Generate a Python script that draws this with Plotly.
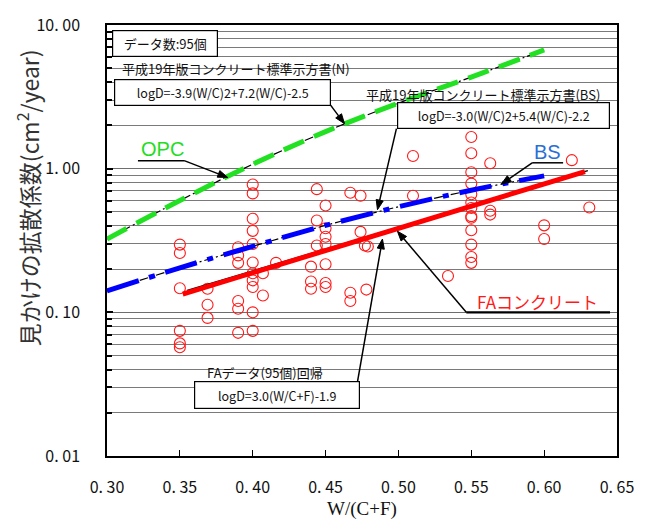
import math
import plotly.graph_objects as go

# ---------------- data ----------------
# FA concrete measurements: W/(C+F) and apparent diffusion coefficient (cm2/year)
fa_x = [0.35, 0.35, 0.35, 0.35, 0.35, 0.35,
        0.369, 0.369, 0.369,
        0.39, 0.39, 0.39, 0.39, 0.39, 0.39,
        0.40, 0.40, 0.40, 0.40, 0.40, 0.40, 0.40, 0.40, 0.40, 0.40, 0.40,
        0.407, 0.407,
        0.416,
        0.44, 0.44, 0.44,
        0.444, 0.444, 0.444,
        0.45, 0.45, 0.45, 0.45, 0.45, 0.45, 0.45,
        0.467, 0.467, 0.467,
        0.474, 0.474,
        0.477, 0.479,
        0.478,
        0.51, 0.51,
        0.534,
        0.55, 0.55, 0.55, 0.55, 0.55, 0.55, 0.55, 0.55, 0.55, 0.55, 0.55, 0.55, 0.55,
        0.563, 0.563, 0.563,
        0.60, 0.60,
        0.619,
        0.631]
fa_D = [0.296, 0.259, 0.147, 0.0743, 0.0608, 0.0572,
        0.146, 0.113, 0.0915,
        0.284, 0.249, 0.221, 0.120, 0.106, 0.072,
        0.775, 0.673, 0.448, 0.369, 0.299, 0.222, 0.187, 0.167, 0.150, 0.100, 0.0743,
        0.187, 0.131,
        0.221,
        0.208, 0.164, 0.146,
        0.72, 0.436, 0.292,
        0.554, 0.385, 0.336, 0.299, 0.216, 0.160, 0.150,
        0.679, 0.137, 0.120,
        0.648, 0.363,
        0.292, 0.287,
        0.144,
        0.648, 1.225,
        0.179,
        1.66, 1.28, 0.944, 0.787, 0.663, 0.581, 0.532, 0.467, 0.455, 0.373, 0.296, 0.243, 0.221,
        1.09, 0.510, 0.479,
        0.403, 0.324,
        1.146,
        0.537]

# JSCE 2007 curves as drawn (N = OPC, BS)
opc_x = [0.30, 0.35, 0.40, 0.45, 0.50, 0.55, 0.60]
opc_D = [0.324, 0.600, 1.074, 1.81, 2.86, 4.34, 6.71]
bs_x = [0.30, 0.35, 0.40, 0.45, 0.50, 0.55, 0.60]
bs_D = [0.141, 0.204, 0.288, 0.403, 0.543, 0.708, 0.891]

# FA regression line (red) and the thin black regression line
fa_reg_x = [0.352, 0.628]
fa_reg_D = [0.134, 0.955]
fa_blk_x = [0.355, 0.630]
fa_blk_D = [0.142, 0.970]

x_ticks = [0.30, 0.35, 0.40, 0.45, 0.50, 0.55, 0.60, 0.65]
x_ticktext = ["0. 30", "0. 35", "0. 40", "0. 45", "0. 50", "0. 55", "0. 60", "0. 65"]
y_major = [0.01, 0.1, 1, 10]
y_major_text = ["0. 01", "0. 10", "1. 00", "10. 00"]

# ---------------- figure ----------------
W, H = 646, 527
L, R, T, B = 107, 28, 16, 70
PW, PH = W - L - R, H - T - B


def px(x):
    return (x - L) / PW


def py(y):
    return (H - B - y) / PH


JP = "Noto Sans CJK JP"
fig = go.Figure()

fig.add_trace(go.Scatter(
    x=fa_x, y=fa_D, mode="markers",
    marker=dict(symbol="circle-open", size=11, color="#ff1a1a", line=dict(width=1.1, color="#ff1a1a")),
    hoverinfo="skip"))

# OPC (green) with thin black dash-dot beneath
fig.add_trace(go.Scatter(x=opc_x, y=opc_D, mode="lines", line_shape="spline",
                         line=dict(color="black", width=1.2, dash="9px,3px,2px,3px")))
fig.add_trace(go.Scatter(x=opc_x, y=opc_D, mode="lines", line_shape="spline",
                         line=dict(color="#22e022", width=5, dash="22px,11px")))
# BS (blue)
fig.add_trace(go.Scatter(x=bs_x, y=bs_D, mode="lines", line_shape="spline",
                         line=dict(color="black", width=1.2, dash="9px,3px,2px,3px")))
fig.add_trace(go.Scatter(x=bs_x, y=bs_D, mode="lines", line_shape="spline",
                         line=dict(color="#0000ff", width=5, dash="33px,11px,6px,11px")))
# FA regression
fig.add_trace(go.Scatter(x=fa_blk_x, y=fa_blk_D, mode="lines",
                         line=dict(color="black", width=1.3)))
fig.add_trace(go.Scatter(x=fa_reg_x, y=fa_reg_D, mode="lines",
                         line=dict(color="#ff0000", width=5)))

tickfont = dict(family=JP, size=16, color="#111111")

fig.update_xaxes(range=[0.30, 0.65], tickvals=x_ticks, ticktext=x_ticktext,
                 ticks="inside", ticklen=6, tickcolor="black", tickwidth=1,
                 showgrid=False, zeroline=False, showline=True, linecolor="black",
                 linewidth=1.5, mirror=True, tickfont=tickfont, ticklabelstandoff=16,
                 title=dict(text="W/(C+F)", standoff=4,
                            font=dict(family="Liberation Serif", size=19, color="#111111")))
fig.update_yaxes(type="log", range=[-2, 1], tickvals=y_major, ticktext=y_major_text,
                 ticks="inside", ticklen=6, tickcolor="black", tickwidth=1.5,
                 showgrid=True, gridcolor="#6e6e6e", gridwidth=1,
                 minor=dict(dtick="D1", showgrid=True, gridcolor="#7a7a7a", gridwidth=1,
                            ticks="inside", ticklen=5, tickcolor="black", tickwidth=1.5),
                 zeroline=False, showline=True, linecolor="black", linewidth=1.5,
                 mirror=True, tickfont=tickfont, ticklabelstandoff=22)

shapes = []
# white bands under titles (hide gridlines, below traces)
for (x0, y0, x1, y1) in [(107, 44, 357, 70), (358, 65, 611, 96), (195, 362, 335, 381)]:
    shapes.append(dict(type="rect", xref="paper", yref="paper",
                       x0=px(x0), x1=px(x1), y0=py(y1), y1=py(y0),
                       fillcolor="white", line=dict(width=0), layer="between"))
# underlines of the labels
for (x0, x1, y, w) in [(138, 185, 155, 1.5), (533, 564, 157, 1.5), (467, 611, 310, 2.2)]:
    shapes.append(dict(type="line", xref="paper", yref="paper",
                       x0=px(x0), x1=px(x1), y0=py(y), y1=py(y),
                       line=dict(color="black", width=w)))


def arrow(tipx, tipy, tailx, taily, hl=10.0, hw=3.6):
    dx, dy = tipx - tailx, tipy - taily
    n = math.hypot(dx, dy)
    ux, uy = dx / n, dy / n
    bx, by = tipx - ux * hl, tipy - uy * hl
    shapes.append(dict(type="line", xref="paper", yref="paper",
                       x0=px(tailx), y0=py(taily), x1=px(bx), y1=py(by),
                       line=dict(color="black", width=1.5)))
    p1 = (bx - uy * hw, by + ux * hw)
    p2 = (bx + uy * hw, by - ux * hw)
    path = "M {:.5f},{:.5f} L {:.5f},{:.5f} L {:.5f},{:.5f} Z".format(
        px(tipx), py(tipy), px(p1[0]), py(p1[1]), px(p2[0]), py(p2[1]))
    shapes.append(dict(type="path", xref="paper", yref="paper", path=path,
                       fillcolor="black", line=dict(color="black", width=1)))


arrow(345, 117, 331, 98)
arrow(228, 172, 185, 155)
arrow(378, 205, 397, 122)
arrow(502, 179, 533, 157)
arrow(398, 227, 467, 310)
arrow(383, 235, 358, 381)

ann = []


def box(text, cx, cy, w, h, size=12.5):
    ann.append(dict(text=text, x=px(cx), y=py(cy), xref="paper", yref="paper",
                    xanchor="center", yanchor="middle", showarrow=False,
                    width=w - 4, height=h - 4, borderpad=1, borderwidth=1.2,
                    bordercolor="black", bgcolor="white",
                    font=dict(family=JP, size=size, color="#111111")))


def label(text, cx, cy, size=13, color="#111111", family=JP):
    ann.append(dict(text=text, x=px(cx), y=py(cy), xref="paper", yref="paper",
                    xanchor="center", yanchor="middle", showarrow=False,
                    font=dict(family=family, size=size, color=color)))


box("データ数:95個", 165.5, 35, 106, 27, 13)
label("平成19年版コンクリート標準示方書(N)", 236, 61, 13)
box("logD=-3.9(W/C)2+7.2(W/C)-2.5", 223, 85, 217, 27)
label("平成19年版コンクリート標準示方書(BS)", 484, 87, 13)
box("logD=-3.0(W/C)2+5.4(W/C)-2.2", 504, 109, 213, 27)
label("FAデータ(95個)回帰", 265, 372, 13)
box("logD=3.0(W/C+F)-1.9", 277.5, 395, 166, 28)

label("OPC", 163, 143, 20, "#22dd22", "Liberation Sans")
label("BS", 548, 146, 20, "#2a6fd6", "Liberation Sans")
label("FAコンクリート", 538, 299, 17, "#ff1a1a")

# y-axis title (placed like the reference, above the plot centre)
ann.append(dict(text="見かけの拡散係数(cm<sup>2</sup>/year)", x=px(28), y=py(193),
                xref="paper", yref="paper", xanchor="center", yanchor="middle",
                textangle=-90, showarrow=False,
                font=dict(family=JP, size=23, color="#333333")))

fig.update_layout(width=W, height=H, margin=dict(l=L, r=R, t=T, b=B),
                  paper_bgcolor="white", plot_bgcolor="white", showlegend=False,
                  shapes=shapes, annotations=ann)

fig.write_html("out.html")
